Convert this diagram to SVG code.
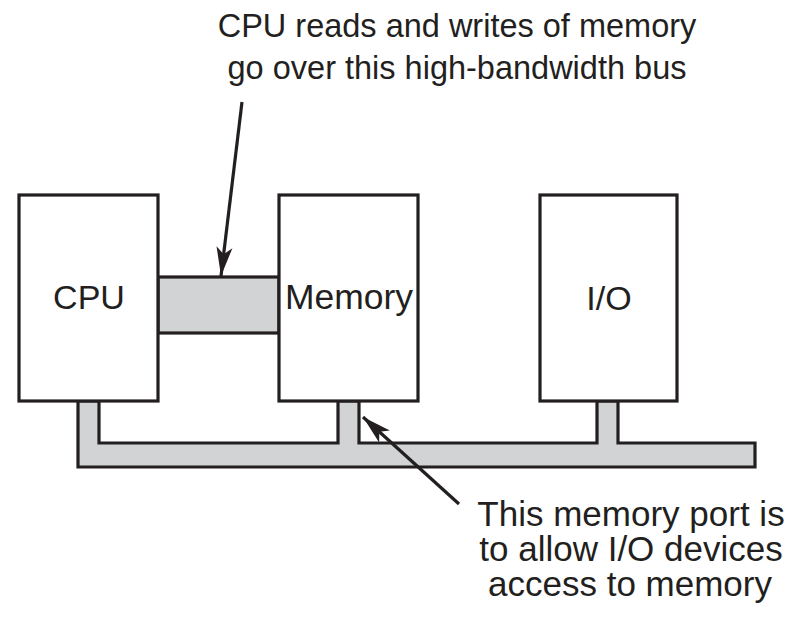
<svg xmlns="http://www.w3.org/2000/svg" width="801" height="622" viewBox="0 0 801 622">
<defs>
<style>
.box{fill:#fff;stroke:#231f20;stroke-width:3.2}
.bus{fill:#d1d3d4;stroke:#231f20;stroke-width:3.2;stroke-linejoin:miter}
.lbl{font-family:"Liberation Sans",Arial,Helvetica,sans-serif;fill:#231f20}
.arr{stroke:#231f20;stroke-width:3.2;fill:none}
</style>
<marker id="ah" markerUnits="userSpaceOnUse" markerWidth="34" markerHeight="24" viewBox="-30 -12 34 24" refX="0" refY="0" orient="auto">
<path d="M0,0 L-29,-8 L-22,0 L-29,8 Z" fill="#231f20"/>
</marker>
</defs>
<rect width="801" height="622" fill="#fff"/>
<g id="connectors">
<path id="bus-bottom" class="bus" d="M78,401 L78,467 L755,467 L755,443 L618,443 L618,401 L597,401 L597,443 L359,443 L359,401 L338,401 L338,443 L99,443 L99,401 Z"/>
<rect id="bus-cpu-mem" class="bus" x="158" y="277" width="121" height="56"/>
<line class="arr" x1="242" y1="102" x2="221" y2="276" marker-end="url(#ah)"/>
<line class="arr" x1="459" y1="504" x2="363" y2="417" marker-end="url(#ah)"/>
</g>
<g id="cpu">
<rect class="box" x="19" y="195" width="139" height="206"/>
<text class="lbl" x="89" y="309" font-size="34" text-anchor="middle">CPU</text>
</g>
<g id="memory">
<rect class="box" x="279" y="195" width="139" height="206"/>
<text class="lbl" x="285" y="309" font-size="35" textLength="128" lengthAdjust="spacingAndGlyphs">Memory</text>
</g>
<g id="io">
<rect class="box" x="540" y="195" width="137" height="206"/>
<text class="lbl" x="609" y="310" font-size="34" text-anchor="middle">I/O</text>
</g>
<g id="note-top" class="lbl" font-size="32.5" text-anchor="middle">
<text x="457" y="37">CPU reads and writes of memory</text>
<text x="457" y="79">go over this high-bandwidth bus</text>
</g>
<g id="note-bottom" class="lbl" font-size="35" text-anchor="middle">
<text x="631" y="526">This memory port is</text>
<text x="631" y="561">to allow I/O devices</text>
<text x="630" y="596">access to memory</text>
</g>
</svg>
